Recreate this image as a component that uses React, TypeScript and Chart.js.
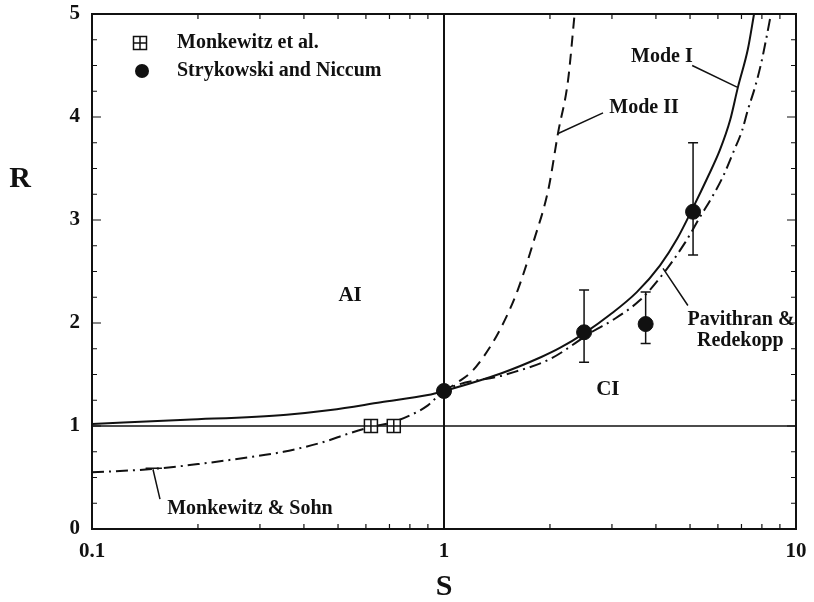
import { useEffect, useRef } from "react";
import { Chart, registerables } from "chart.js";

Chart.register(...registerables);

// Mode I neutral curve (solid)
const modeIS = [0.1, 0.185, 0.357, 0.476, 0.662, 0.9, 1.0, 1.45, 1.89, 2.14, 2.5, 2.96, 3.53, 4.11, 4.6, 5.1, 5.62, 6.08, 6.5, 6.84, 7.3, 7.6];
const modeIR = [1.02, 1.06, 1.11, 1.155, 1.23, 1.3, 1.34, 1.51, 1.67, 1.76, 1.9, 2.08, 2.3, 2.56, 2.82, 3.12, 3.42, 3.68, 3.97, 4.29, 4.66, 5.0];

// Mode II neutral curve (dashed)
const modeIIS = [1.0, 1.1, 1.2, 1.3, 1.45, 1.62, 1.8, 1.98, 2.11, 2.25, 2.35];
const modeIIR = [1.34, 1.43, 1.53, 1.68, 1.95, 2.32, 2.8, 3.3, 3.85, 4.35, 5.0];

// Monkewitz & Sohn (left) continuing as Pavithran & Redekopp (right), dash-dot
const dashDotS = [0.1, 0.145, 0.2, 0.27, 0.35, 0.45, 0.54, 0.62, 0.72, 0.82, 0.9, 1.0, 1.5, 2.0, 2.65, 3.02, 3.6, 4.11, 4.84, 5.34, 5.77, 6.2, 6.62, 7.03, 7.3, 7.65, 7.96, 8.22, 8.49];
const dashDotR = [0.55, 0.58, 0.63, 0.69, 0.75, 0.84, 0.93, 0.99, 1.04, 1.12, 1.2, 1.34, 1.5, 1.65, 1.92, 2.03, 2.22, 2.44, 2.78, 3.03, 3.22, 3.42, 3.65, 3.87, 4.07, 4.29, 4.52, 4.75, 5.0];

// Monkewitz et al. measurements
const monkS = [0.62, 0.72];
const monkR = [1.0, 1.0];

// Strykowski and Niccum measurements with error bars
const strykS = [1.0, 2.5, 3.74, 5.1];
const strykR = [1.34, 1.91, 1.99, 3.08];
const strykLow = [1.34, 1.62, 1.8, 2.66];
const strykHigh = [1.34, 2.32, 2.3, 3.75];

// Axis ticks
const xTickValues = [0.1, 1, 10];
const xTickLabels = ["0.1", "1", "10"];
const xMinorTicks = [0.2, 0.3, 0.4, 0.5, 0.6, 0.7, 0.8, 0.9, 2, 3, 4, 5, 6, 7, 8, 9];
const yTickValues = [0, 1, 2, 3, 4, 5];

const SERIF = '"Liberation Serif", "Times New Roman", serif';
const INK = "#111";

const pts = (xs: number[], ys: number[]) => xs.map((x, i) => ({ x, y: ys[i] }));

// Text annotations placed in data coordinates (S, R)
const textNotes = [
  { text: "AI", s: 0.541, r: 2.27, size: 21 },
  { text: "CI", s: 2.92, r: 1.35, size: 21 },
  { text: "Mode I", s: 4.16, r: 4.58, size: 20 },
  { text: "Mode II", s: 3.7, r: 4.09, size: 20 },
  { text: "Pavithran &", s: 6.98, r: 2.03, size: 20 },
  { text: "Redekopp", s: 6.95, r: 1.83, size: 20 },
  { text: "Monkewitz & Sohn", s: 0.281, r: 0.2, size: 20 },
];

// Leader lines from labels to curves
const leaders = [
  [[5.07, 4.5], [6.8, 4.29]],
  [[2.83, 4.04], [2.11, 3.84]],
  [[4.19, 2.53], [4.93, 2.17]],
  [[0.156, 0.29], [0.149, 0.58]],
  [[0.142, 0.59], [0.158, 0.59]],
];

const decor = {
  id: "figureDecor",
  beforeDatasetsDraw(chart: any) {
    const { ctx, scales } = chart;
    const x = scales.x;
    const y = scales.y;
    ctx.save();
    ctx.strokeStyle = INK;
    ctx.lineWidth = 1.5;
    strykS.forEach((s, i) => {
      const lo = strykLow[i];
      const hi = strykHigh[i];
      if (lo === hi) return;
      const px = x.getPixelForValue(s);
      const y1 = y.getPixelForValue(lo);
      const y2 = y.getPixelForValue(hi);
      ctx.beginPath();
      ctx.moveTo(px, y1);
      ctx.lineTo(px, y2);
      ctx.moveTo(px - 5, y1);
      ctx.lineTo(px + 5, y1);
      ctx.moveTo(px - 5, y2);
      ctx.lineTo(px + 5, y2);
      ctx.stroke();
    });
    ctx.restore();
  },
  afterDraw(chart: any) {
    const { ctx, chartArea, scales } = chart;
    const x = scales.x;
    const y = scales.y;
    const { left, right, top, bottom } = chartArea;
    ctx.save();

    // frame
    ctx.strokeStyle = INK;
    ctx.lineWidth = 2;
    ctx.strokeRect(left, top, right - left, bottom - top);

    // inward ticks on all four sides
    ctx.lineWidth = 1.2;
    ctx.beginPath();
    const xt = (v: number, len: number) => {
      const px = x.getPixelForValue(v);
      ctx.moveTo(px, bottom);
      ctx.lineTo(px, bottom - len);
      ctx.moveTo(px, top);
      ctx.lineTo(px, top + len);
    };
    xMinorTicks.forEach((v) => xt(v, 5));
    xt(1, 9);
    for (let k = 1; k < 20; k++) {
      const v = k * 0.25;
      const py = y.getPixelForValue(v);
      const len = k % 4 === 0 ? 9 : 5;
      ctx.moveTo(left, py);
      ctx.lineTo(left + len, py);
      ctx.moveTo(right, py);
      ctx.lineTo(right - len, py);
    }
    ctx.stroke();

    // leader lines
    ctx.lineWidth = 1.5;
    ctx.beginPath();
    leaders.forEach(([a, b]) => {
      ctx.moveTo(x.getPixelForValue(a[0]), y.getPixelForValue(a[1]));
      ctx.lineTo(x.getPixelForValue(b[0]), y.getPixelForValue(b[1]));
    });
    ctx.stroke();

    // annotations
    ctx.fillStyle = INK;
    ctx.textAlign = "center";
    ctx.textBaseline = "middle";
    textNotes.forEach((n) => {
      ctx.font = `bold ${n.size}px ${SERIF}`;
      ctx.fillText(n.text, x.getPixelForValue(n.s), y.getPixelForValue(n.r));
    });

    // legend
    const lx = left + 48;
    const ly1 = top + 29;
    const ly2 = top + 57;
    ctx.lineWidth = 1.5;
    ctx.fillStyle = "#fff";
    ctx.fillRect(lx - 6.5, ly1 - 6.5, 13, 13);
    ctx.strokeRect(lx - 6.5, ly1 - 6.5, 13, 13);
    ctx.beginPath();
    ctx.moveTo(lx - 6.5, ly1);
    ctx.lineTo(lx + 6.5, ly1);
    ctx.moveTo(lx, ly1 - 6.5);
    ctx.lineTo(lx, ly1 + 6.5);
    ctx.stroke();
    ctx.fillStyle = INK;
    ctx.beginPath();
    ctx.arc(lx + 2, ly2, 7, 0, Math.PI * 2);
    ctx.fill();
    ctx.font = `bold 20px ${SERIF}`;
    ctx.textAlign = "left";
    ctx.fillText("Monkewitz et al.", left + 85, ly1);
    ctx.fillText("Strykowski and Niccum", left + 85, ly2);

    // axis titles
    ctx.font = `bold 30px ${SERIF}`;
    ctx.textAlign = "center";
    ctx.fillText("R", left - 72, y.getPixelForValue(3.4));
    ctx.fillText("S", x.getPixelForValue(1), bottom + 58);

    ctx.restore();
  },
};

export default function App() {
  const ref = useRef<HTMLCanvasElement>(null);

  useEffect(() => {
    if (!ref.current) return;
    const line = (data: any[], extra: any) => ({
      data,
      showLine: true,
      pointRadius: 0,
      borderColor: INK,
      borderWidth: 2,
      fill: false,
      cubicInterpolationMode: "monotone",
      ...extra,
    });
    const chart = new Chart(ref.current, {
      type: "line",
      data: {
        datasets: [
          {
            label: "Strykowski and Niccum",
            data: pts(strykS, strykR),
            showLine: false,
            pointStyle: "circle",
            pointRadius: 7.5,
            backgroundColor: INK,
            borderColor: INK,
            borderWidth: 1,
          },
          {
            label: "Monkewitz et al. cross",
            data: pts(monkS, monkR),
            showLine: false,
            pointStyle: "cross",
            pointRadius: 6.5,
            borderColor: INK,
            borderWidth: 1.5,
          },
          {
            label: "Monkewitz et al.",
            data: pts(monkS, monkR),
            showLine: false,
            pointStyle: "rect",
            pointRadius: 9.2,
            backgroundColor: "#fff",
            borderColor: INK,
            borderWidth: 1.5,
          },
          line(pts(modeIS, modeIR), { label: "Mode I" }),
          line(pts(modeIIS, modeIIR), { label: "Mode II", borderDash: [11, 7] }),
          line(pts(dashDotS, dashDotR), { label: "Monkewitz & Sohn / Pavithran & Redekopp", borderDash: [12, 5, 2, 5] }),
          line([{ x: 0.1, y: 1 }, { x: 10, y: 1 }], { label: "R = 1", borderWidth: 1.5, cubicInterpolationMode: "default" }),
          line([{ x: 1, y: 0 }, { x: 1, y: 5 }], { label: "S = 1", borderWidth: 2, cubicInterpolationMode: "default" }),
        ],
      },
      options: {
        responsive: false,
        animation: false,
        layout: { padding: { top: 14, right: 18, left: 0, bottom: 0 } },
        plugins: { legend: { display: false }, tooltip: { enabled: false } },
        scales: {
          x: {
            type: "logarithmic",
            min: 0.1,
            max: 10,
            grid: { display: false, drawTicks: false },
            border: { display: false },
            afterBuildTicks: (s: any) => {
              s.ticks = xTickValues.map((v) => ({ value: v }));
            },
            afterFit: (s: any) => {
              s.height = 73;
              s.paddingLeft = 0;
              s.paddingRight = 0;
            },
            ticks: {
              autoSkip: false,
              maxRotation: 0,
              padding: 10,
              color: INK,
              font: { family: SERIF, size: 21, weight: "bold" },
              callback: (v: any) => {
                const i = xTickValues.findIndex((t) => Math.abs(t - Number(v)) < 1e-9);
                return i >= 0 ? xTickLabels[i] : "";
              },
            },
          },
          y: {
            type: "linear",
            min: 0,
            max: 5,
            grid: { display: false, drawTicks: false },
            border: { display: false },
            afterBuildTicks: (s: any) => {
              s.ticks = yTickValues.map((v) => ({ value: v }));
            },
            afterFit: (s: any) => {
              s.width = 92;
              s.paddingTop = 0;
              s.paddingBottom = 0;
            },
            ticks: {
              padding: 12,
              color: INK,
              font: { family: SERIF, size: 21, weight: "bold" },
              callback: (v: any) => String(v),
            },
          },
        },
      },
      plugins: [decor],
    } as any);
    return () => chart.destroy();
  }, []);

  return (
    <div style={{ position: "absolute", left: 0, top: 0, background: "#fff" }}>
      <canvas ref={ref} width={814} height={602} style={{ display: "block" }} />
    </div>
  );
}
